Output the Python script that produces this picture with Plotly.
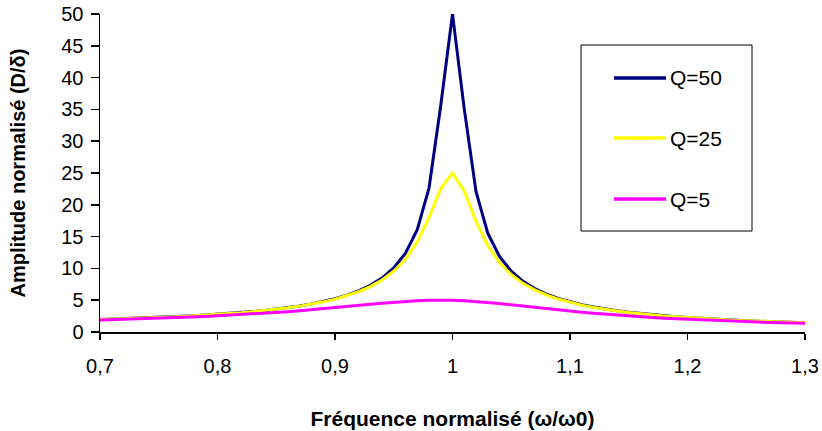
import plotly.graph_objects as go

# Normalised frequency (omega/omega0)
freq = [0.70, 0.71, 0.72, 0.73, 0.74, 0.75, 0.76, 0.77, 0.78, 0.79,
        0.80, 0.81, 0.82, 0.83, 0.84, 0.85, 0.86, 0.87, 0.88, 0.89,
        0.90, 0.91, 0.92, 0.93, 0.94, 0.95, 0.96, 0.97, 0.98, 0.99,
        1.00, 1.01, 1.02, 1.03, 1.04, 1.05, 1.06, 1.07, 1.08, 1.09,
        1.10, 1.11, 1.12, 1.13, 1.14, 1.15, 1.16, 1.17, 1.18, 1.19,
        1.20, 1.21, 1.22, 1.23, 1.24, 1.25, 1.26, 1.27, 1.28, 1.29, 1.30]

amp_q50 = [1.96, 2.02, 2.08, 2.14, 2.21, 2.28, 2.37, 2.45, 2.55, 2.66,
           2.78, 2.90, 3.05, 3.21, 3.39, 3.60, 3.83, 4.10, 4.42, 4.79,
           5.24, 5.79, 6.46, 7.33, 8.48, 10.07, 12.39, 16.08, 22.63, 35.62,
           50.00, 35.09, 22.10, 15.55, 11.87, 9.56, 7.97, 6.83, 5.96, 5.28,
           4.74, 4.29, 3.92, 3.60, 3.33, 3.09, 2.89, 2.71, 2.54, 2.40,
           2.27, 2.15, 2.04, 1.95, 1.86, 1.78, 1.70, 1.63, 1.57, 1.50, 1.45]

amp_q25 = [1.96, 2.01, 2.07, 2.14, 2.21, 2.28, 2.36, 2.45, 2.55, 2.65,
           2.77, 2.89, 3.04, 3.20, 3.37, 3.58, 3.81, 4.07, 4.38, 4.74,
           5.17, 5.69, 6.33, 7.14, 8.18, 9.56, 11.45, 14.14, 17.95, 22.56,
           25.00, 22.16, 17.42, 13.60, 10.92, 9.03, 7.65, 6.62, 5.82, 5.18,
           4.66, 4.23, 3.87, 3.56, 3.30, 3.07, 2.87, 2.69, 2.53, 2.39,
           2.26, 2.14, 2.04, 1.94, 1.85, 1.77, 1.70, 1.63, 1.56, 1.50, 1.45]

amp_q5 = [1.89, 1.94, 1.99, 2.04, 2.10, 2.16, 2.23, 2.30, 2.37, 2.45,
          2.54, 2.63, 2.73, 2.84, 2.95, 3.07, 3.20, 3.34, 3.49, 3.65,
          3.82, 3.99, 4.17, 4.35, 4.52, 4.68, 4.82, 4.93, 5.00, 5.03,
          5.00, 4.93, 4.81, 4.66, 4.48, 4.28, 4.07, 3.87, 3.67, 3.47,
          3.29, 3.11, 2.95, 2.80, 2.66, 2.52, 2.40, 2.29, 2.18, 2.09,
          2.00, 1.91, 1.83, 1.76, 1.69, 1.62, 1.56, 1.51, 1.45, 1.40, 1.36]

series_names = ["Q=50", "Q=25", "Q=5"]
series_colors = ["#000080", "#FFFF00", "#FF00FF"]

x_tickvals = [0.7, 0.8, 0.9, 1.0, 1.1, 1.2, 1.3]
x_ticktext = ["0,7", "0,8", "0,9", "1", "1,1", "1,2", "1,3"]
y_tickvals = [0, 5, 10, 15, 20, 25, 30, 35, 40, 45, 50]
y_ticktext = ["0", "5", "10", "15", "20", "25", "30", "35", "40", "45", "50"]

FONT = "Liberation Sans, Arial, sans-serif"

fig = go.Figure()
for name, ys, col in zip(series_names, [amp_q50, amp_q25, amp_q5], series_colors):
    fig.add_trace(go.Scatter(x=freq, y=ys, mode="lines", name=name,
                             line=dict(color=col, width=3), showlegend=False))

fig.update_layout(
    width=822, height=431,
    margin=dict(l=100, r=17, t=14, b=99, autoexpand=False),
    paper_bgcolor="white", plot_bgcolor="white",
    font=dict(family=FONT, color="black", size=20),
    xaxis=dict(range=[0.7, 1.3], tickvals=x_tickvals, ticktext=x_ticktext,
               automargin=False,
               showgrid=False, zeroline=False, showline=True, linecolor="black",
               linewidth=1.5, ticks="outside", ticklen=6, tickcolor="black",
               tickwidth=1.5, ticklabelstandoff=9,
               tickfont=dict(size=20),
               title=dict(text="<b>Fréquence normalisé (ω/ω0)</b>",
                          font=dict(size=21), standoff=36)),
    yaxis=dict(range=[0, 50], tickvals=y_tickvals, ticktext=y_ticktext,
               automargin=False,
               showgrid=False, zeroline=False, showline=True, linecolor="black",
               linewidth=1.5, ticks="outside", ticklen=8, tickcolor="black",
               tickwidth=1.5, ticklabelstandoff=3,
               tickfont=dict(size=20),
               title=dict(text="<b>Amplitude normalisé (D/δ)</b>",
                          font=dict(size=20), standoff=30)),
)

# Legend box (drawn manually to match the reference layout)
px0, px1 = 100, 805
py0, py1 = 14, 332
def fx(p):
    return (p - px0) / (px1 - px0)
def fy(p):
    return (py1 - p) / (py1 - py0)

fig.add_shape(type="rect", xref="paper", yref="paper",
              x0=fx(581), x1=fx(752), y0=fy(231), y1=fy(45),
              line=dict(color="black", width=1), fillcolor="white", layer="above")
legend_rows = [78, 138, 199]
for name, col, ry in zip(series_names, series_colors, legend_rows):
    fig.add_shape(type="line", xref="paper", yref="paper",
                  x0=fx(614), x1=fx(666), y0=fy(ry), y1=fy(ry),
                  line=dict(color=col, width=3.5), layer="above")
    fig.add_annotation(xref="paper", yref="paper", x=fx(668), y=fy(ry),
                       text=name, showarrow=False, xanchor="left", yanchor="middle",
                       font=dict(size=21, family=FONT, color="black"))

fig.write_html("out.html",
               config={"displayModeBar": False, "staticPlot": True},
               post_script="document.body.style.margin='0';document.body.style.overflow='hidden';")
